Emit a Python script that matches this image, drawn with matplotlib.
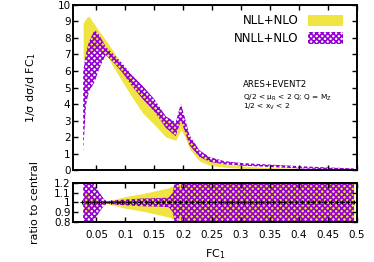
import numpy as np
import matplotlib
matplotlib.use("Agg")
import matplotlib.pyplot as plt
from matplotlib.patches import Patch

# --- data ------------------------------------------------------------------
fc = [0.027, 0.032, 0.037, 0.047, 0.055, 0.066, 0.08, 0.095, 0.11, 0.13,
      0.15, 0.17, 0.187, 0.196, 0.203, 0.211, 0.228, 0.245, 0.27, 0.3,
      0.35, 0.4, 0.45, 0.495]

# NLL+NLO band (yellow)
nll_hi = [8.9, 9.2, 9.33, 8.8, 8.4, 7.88, 7.15, 6.3, 5.55, 4.6,
          3.85, 3.05, 2.7, 3.3, 2.6, 1.85, 1.0, 0.62, 0.38, 0.25,
          0.15, 0.1, 0.06, 0.04]
nll_lo = [6.6, 6.9, 7.2, 7.3, 7.3, 7.1, 6.2, 5.35, 4.5, 3.45,
          2.75, 2.0, 1.8, 2.45, 2.0, 1.3, 0.55, 0.3, 0.17, 0.1,
          0.05, 0.03, 0.02, 0.01]

# NNLL+NLO band (purple)
nnll_hi = [5.96, 7.1, 7.78, 8.5, 8.18, 7.47, 7.0, 6.46, 5.8, 5.1,
           4.3, 3.25, 2.9, 4.04, 3.15, 2.1, 1.2, 0.8, 0.55, 0.43,
           0.33, 0.24, 0.16, 0.1]
nnll_lo = [1.1, 3.94, 4.75, 5.35, 6.16, 6.97, 6.5, 5.9, 5.15, 4.3,
           3.55, 2.55, 2.05, 3.0, 2.3, 1.5, 0.8, 0.5, 0.35, 0.27,
           0.18, 0.1, 0.05, 0.02]

# ratio to central
rfc = [0.027, 0.044, 0.055, 0.066, 0.08, 0.1, 0.13, 0.16, 0.175, 0.182,
       0.188, 0.195, 0.2, 0.21, 0.25, 0.3, 0.4, 0.495]
nll_rhi = [1.15, 1.06, 1.03, 1.01, 1.03, 1.06, 1.09, 1.13, 1.15, 1.17,
           1.18, 1.2, 1.22, 1.25, 1.3, 1.3, 1.3, 1.3]
nll_rlo = [0.85, 0.94, 0.97, 0.99, 0.97, 0.94, 0.91, 0.87, 0.85, 0.83,
           0.82, 0.8, 0.78, 0.75, 0.7, 0.7, 0.7, 0.7]
nnll_rhi = [1.5, 1.2, 1.1, 1.01, 1.02, 1.03, 1.04, 1.045, 1.05, 1.1,
            1.3, 1.12, 1.3, 1.5, 1.5, 1.5, 1.5, 1.5]
nnll_rlo = [0.5, 0.8, 0.9, 0.99, 0.98, 0.97, 0.96, 0.955, 0.95, 0.9,
            0.7, 0.88, 0.7, 0.5, 0.5, 0.5, 0.5, 0.5]

# bin centres where the central points sit
centres = np.arange(0.025, 0.5, 0.01)

YELLOW = "#f0e442"
PURPLE = "#9400d3"
HATCH = "xxxxxx"

plt.rcParams["hatch.linewidth"] = 1.2
plt.rcParams["font.family"] = "DejaVu Sans"

fig = plt.figure(figsize=(3.74, 2.62), dpi=100)
ax = fig.add_axes([0.196, 0.351, 0.758, 0.630])
axr = fig.add_axes([0.196, 0.153, 0.758, 0.149])


def _style(a):
    for s in a.spines.values():
        s.set_linewidth(1.4)
    a.tick_params(direction="in", top=True, right=True, length=3.5,
                  width=1.0, labelsize=7.5, pad=2)
    a.set_xlim(0.01, 0.5)
    a.set_xticks([0.05, 0.1, 0.15, 0.2, 0.25, 0.3, 0.35, 0.4, 0.45, 0.5])


# main panel
ax.fill_between(fc, nll_lo, nll_hi, color=YELLOW, lw=0)
ax.fill_between(fc, nnll_lo, nnll_hi, facecolor="none", edgecolor=PURPLE,
                hatch=HATCH, lw=0)
_style(ax)
ax.set_ylim(0, 10)
ax.set_yticks(range(0, 11))
ax.tick_params(labelbottom=False)
ax.set_ylabel("1/\u03c3 d\u03c3/d FC$_1$", fontsize=8, labelpad=14)

handles = [Patch(facecolor=YELLOW, lw=0),
           Patch(facecolor="none", edgecolor=PURPLE, hatch=HATCH, lw=0)]
ax.legend(handles, ["NLL+NLO", "NNLL+NLO"], loc="upper right",
          frameon=False, fontsize=8.5, markerfirst=False,
          handlelength=3.0, handleheight=1.1, borderaxespad=0.4,
          labelspacing=0.4, bbox_to_anchor=(0.985, 1.0))

ax.text(0.6, 0.52, "ARES+EVENT2", transform=ax.transAxes, fontsize=6.2,
        va="center")
ax.text(0.6, 0.44, "Q/2 < \u03bc$_\\mathregular{R}$ < 2 Q; Q = M$_\\mathregular{Z}$",
        transform=ax.transAxes, fontsize=5.3, va="center")
ax.text(0.6, 0.383, "1/2 < x$_\\mathregular{V}$ < 2",
        transform=ax.transAxes, fontsize=5.3, va="center")

# ratio panel
axr.fill_between(rfc, nll_rlo, nll_rhi, color=YELLOW, lw=0)
axr.fill_between(rfc, nnll_rlo, nnll_rhi, facecolor="none", edgecolor=PURPLE,
                 hatch=HATCH, lw=0)
axr.plot(centres, np.ones_like(centres), color="black", ls=":", lw=1.0,
         marker="+", ms=3.5, mew=0.8)
_style(axr)
axr.set_ylim(0.8, 1.2)
axr.set_yticks([0.8, 0.9, 1.0, 1.1, 1.2])
axr.set_yticklabels(["0.8", "0.9", "1", "1.1", "1.2"])
axr.set_xticklabels(["0.05", "0.1", "0.15", "0.2", "0.25", "0.3", "0.35",
                     "0.4", "0.45", "0.5"])
axr.tick_params(axis="x", pad=6)
axr.set_ylabel("ratio to central", fontsize=8, labelpad=10)
axr.set_xlabel("FC$_1$", fontsize=8, labelpad=5)

fig.savefig("out.png", dpi=100)
